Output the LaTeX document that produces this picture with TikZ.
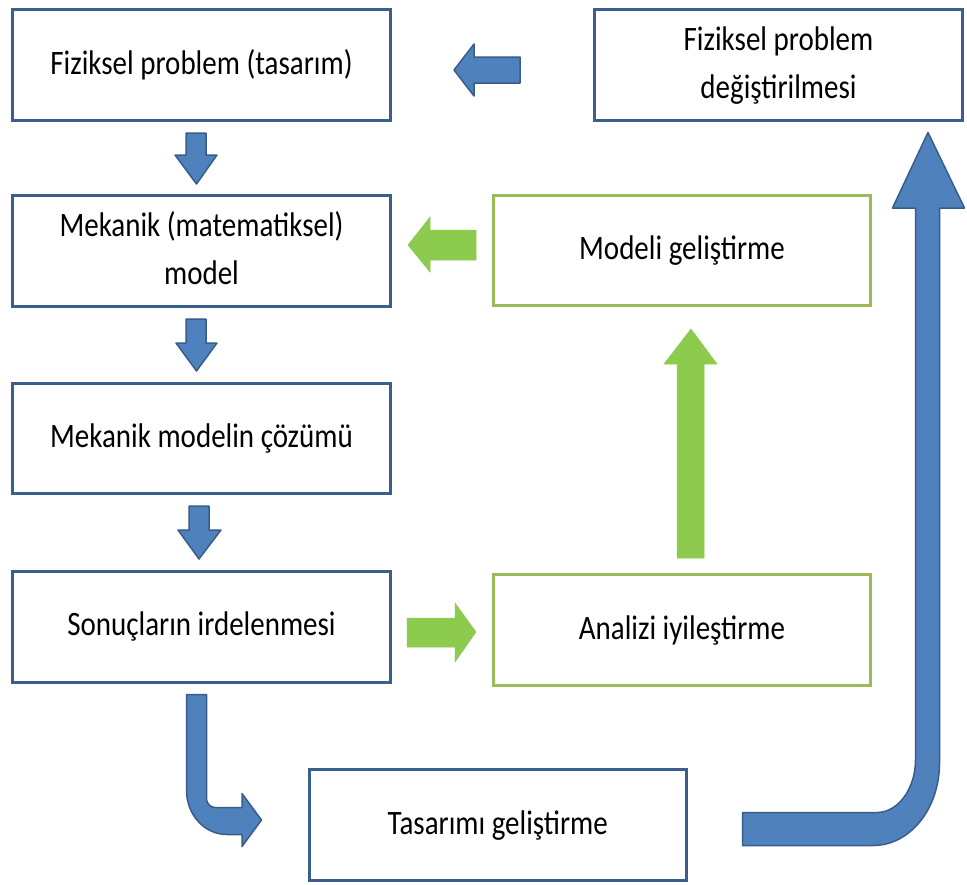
\documentclass[tikz,border=0pt]{standalone}
\usepackage{fontspec}
\setmainfont{Carlito}
\usepackage{graphicx}
\definecolor{boxblue}{HTML}{3B5F8C}
\definecolor{arrblue}{HTML}{4F81BD}
\definecolor{arrline}{HTML}{385D8A}
\definecolor{boxgreen}{HTML}{9BBB59}
\definecolor{arrgreen}{HTML}{8DCB4F}
\newcommand{\tx}[1]{\scalebox{1}[1.18]{\begin{tabular}{@{}c@{}}#1\end{tabular}}}
\tikzset{
  bluebox/.style={draw=boxblue, line width=3pt, rectangle, inner sep=0pt, outer sep=0pt,
    font=\fontsize{29}{40}\selectfont, align=center},
  greenbox/.style={bluebox, draw=boxgreen},
  bluearrow/.style={fill=arrblue, draw=arrline, line width=1.5pt, line join=round},
  greenarrow/.style={fill=arrgreen, draw=arrgreen, line width=0.5pt}
}
\begin{document}
\begin{tikzpicture}[x=1pt,y=-1pt]
\useasboundingbox (0,0) rectangle (967,884);
\fill[white] (0,0) rectangle (967,884);
% boxes
\node[bluebox, minimum width=378pt, minimum height=111pt] (A) at (201.5,65) {\tx{Fiziksel problem (tasarım)}};
\node[bluebox, minimum width=368pt, minimum height=111pt] (B) at (778.5,65) {\tx{Fiziksel problem\\değiştirilmesi}};
\node[bluebox, minimum width=378pt, minimum height=111pt] (C) at (201.5,251) {\tx{Mekanik (matematiksel)\\model}};
\node[greenbox, minimum width=377pt, minimum height=110pt] (D) at (682,250.5) {\tx{Modeli geliştirme}};
\node[bluebox, minimum width=378pt, minimum height=110pt] (E) at (201.5,438) {\tx{Mekanik modelin çözümü}};
\node[bluebox, minimum width=378pt, minimum height=111pt] (F) at (201.5,626.5) {\tx{Sonuçların irdelenmesi}};
\node[greenbox, minimum width=377pt, minimum height=111pt] (G) at (682,630) {\tx{Analizi iyileştirme}};
\node[bluebox, minimum width=376.5pt, minimum height=110.5pt] (H) at (497.75,824.75) {\tx{Tasarımı geliştirme}};
% blue down arrows
\draw[bluearrow] (186,133) -- (206,133) -- (206,155) -- (217,155) -- (196.5,184) -- (175,155) -- (186,155) -- cycle;
\draw[bluearrow] (186,319) -- (206,319) -- (206,343) -- (217,343) -- (196.5,371) -- (176,343) -- (186,343) -- cycle;
\draw[bluearrow] (189,506) -- (209,506) -- (209,530) -- (221,530) -- (199,559) -- (178,530) -- (189,530) -- cycle;
% blue left arrow (B -> A)
\draw[bluearrow] (520,57) -- (520,83) -- (474,83) -- (474,96) -- (454,70) -- (474,44) -- (474,57) -- cycle;
% green arrows
\draw[greenarrow] (476,230) -- (476,260) -- (430,260) -- (430,272) -- (408,245) -- (430,217) -- (430,230) -- cycle;
\draw[greenarrow] (407,618) -- (455,618) -- (455,603) -- (476,632) -- (455,662) -- (455,647) -- (407,647) -- cycle;
\draw[greenarrow] (677,558) -- (677,364) -- (664,364) -- (691,329) -- (717,364) -- (704,364) -- (704,558) -- cycle;
% bent arrow F -> H
\draw[bluearrow] (186.5,694.5) -- (186.5,790) .. controls (186.5,814.8) and (204.4,834.5) .. (227,834.5)
  -- (242,834.5) -- (242,846.5) -- (261.5,820) -- (242,793.5) -- (242,807.5) -- (215,807.5)
  .. controls (210.6,807.5) and (206.5,803.4) .. (206.5,799) -- (206.5,694.5) -- cycle;
% big arrow H -> B
\draw[bluearrow] (742.5,812.5) -- (877,812.5) .. controls (898,812.5) and (915.5,788.7) .. (915.5,760)
  -- (915.5,208) -- (892.5,208) -- (928,132.5) -- (964.5,208) -- (939.5,208) -- (939.5,763)
  .. controls (939.5,808.8) and (910,845.5) .. (873,845.5) -- (742.5,845.5) -- cycle;
\end{tikzpicture}
\end{document}
